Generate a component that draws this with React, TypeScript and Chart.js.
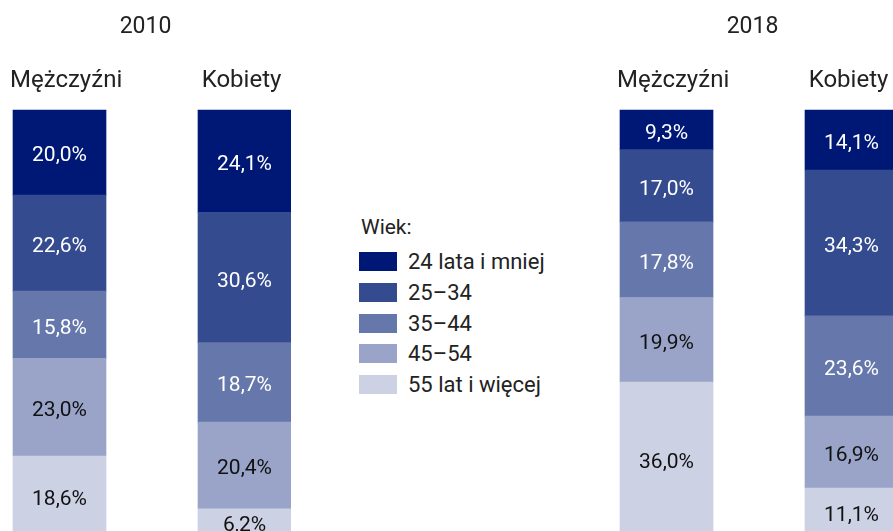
import { useEffect, useRef } from "react";
import { Chart, registerables } from "chart.js";

Chart.register(...registerables);

// ---- data ----
const ageGroups = ["24 lata i mniej", "25–34", "35–44", "45–54", "55 lat i więcej"];
const genders = ["Mężczyźni", "Kobiety"];
const years = ["2010", "2018"];
const men2010 = [20.0, 22.6, 15.8, 23.0, 18.6];
const women2010 = [24.1, 30.6, 18.7, 20.4, 6.2];
const men2018 = [9.3, 17.0, 17.8, 19.9, 36.0];
const women2018 = [14.1, 34.3, 23.6, 16.9, 11.1];

// ---- styles ----
const colors = ["#001875", "#344b8f", "#6677ab", "#99a4c8", "#ccd1e4"];
const valueColors = ["#ffffff", "#ffffff", "#ffffff", "#111111", "#111111"];
const FONT = "Roboto, 'Open Sans', sans-serif";

const fmt = (v: number) => v.toFixed(1).replace(".", ",") + "%";

const labelsPlugin = {
  id: "customLabels",
  afterDatasetsDraw(chart: any) {
    const ctx = chart.ctx;
    ctx.save();
    ctx.font = `21px ${FONT}`;
    ctx.textAlign = "center";
    ctx.textBaseline = "alphabetic";
    chart.data.datasets.forEach((ds: any, di: number) => {
      const meta = chart.getDatasetMeta(di);
      meta.data.forEach((el: any, j: number) => {
        const v = ds.data[j];
        const cy = (el.y + el.base) / 2;
        ctx.fillStyle = ds.valueColor;
        ctx.fillText(fmt(v), el.x, cy + 21 * 0.355 + 1.5);
      });
    });
    ctx.restore();
  },
  afterDraw(chart: any) {
    const ctx = chart.ctx;
    const opts = chart.options.plugins.customLabels;
    ctx.save();
    ctx.fillStyle = "#222222";
    ctx.textBaseline = "alphabetic";
    ctx.textAlign = "center";
    ctx.font = `23px ${FONT}`;
    ctx.fillText(opts.year, chart.width / 2, 33);
    ctx.font = `24px ${FONT}`;
    const xs = chart.scales.x;
    chart.data.labels.forEach((lab: string, i: number) => {
      const w = ctx.measureText(lab).width;
      const px = Math.max(xs.getPixelForValue(i) - 3, 10 + w / 2);
      ctx.fillText(lab, px, 87);
    });
    ctx.restore();
  },
};

function makeConfig(year: string, men: number[], women: number[]): any {
  const order = [4, 3, 2, 1, 0];
  return {
    type: "bar",
    data: {
      labels: genders,
      datasets: order.map((i) => ({
        label: ageGroups[i],
        data: [men[i], women[i]],
        backgroundColor: colors[i],
        valueColor: valueColors[i],
        borderWidth: 0,
        barThickness: 93,
        clip: false,
      })),
    },
    options: {
      responsive: false,
      animation: false,
      devicePixelRatio: 1,
      layout: { padding: { top: 110, bottom: 0, left: 59.5, right: 46.5 } },
      scales: {
        x: { stacked: true, display: false, offset: false },
        y: { stacked: true, display: false, min: 1, max: 100 },
      },
      plugins: {
        legend: { display: false },
        tooltip: { enabled: false },
        title: { display: false },
        customLabels: { year },
      },
    },
    plugins: [labelsPlugin],
  };
}

function BarChart({ year, men, women, left }: { year: string; men: number[]; women: number[]; left: number }) {
  const ref = useRef<HTMLCanvasElement | null>(null);
  useEffect(() => {
    if (!ref.current) return;
    const chart = new Chart(ref.current, makeConfig(year, men, women));
    return () => chart.destroy();
  }, [year, men, women]);
  return (
    <canvas
      ref={ref}
      width={291}
      height={531}
      style={{ position: "absolute", left, top: 0, width: 291, height: 531 }}
    />
  );
}

function Legend() {
  return (
    <div style={{ position: "absolute", left: 358, top: 0, fontFamily: FONT, color: "#222" }}>
      <div style={{ position: "absolute", left: 3, top: 214, fontSize: 21, lineHeight: "26px", whiteSpace: "nowrap" }}>Wiek:</div>
      {ageGroups.map((g, i) => (
        <div
          key={g}
          style={{ position: "absolute", left: 1, top: 252 + i * 30.75, height: 19, display: "flex", alignItems: "center", whiteSpace: "nowrap" }}
        >
          <div style={{ width: 38, height: 19, background: colors[i] }} />
          <span style={{ marginLeft: 11, fontSize: 22, lineHeight: "19px" }}>{g}</span>
        </div>
      ))}
    </div>
  );
}

export default function App() {
  return (
    <div style={{ position: "fixed", left: 0, top: 0, width: 893, height: 531, overflow: "hidden", background: "#fff" }}>
      <BarChart year={years[0]} men={men2010} women={women2010} left={0} />
      <Legend />
      <BarChart year={years[1]} men={men2018} women={women2018} left={607} />
    </div>
  );
}
